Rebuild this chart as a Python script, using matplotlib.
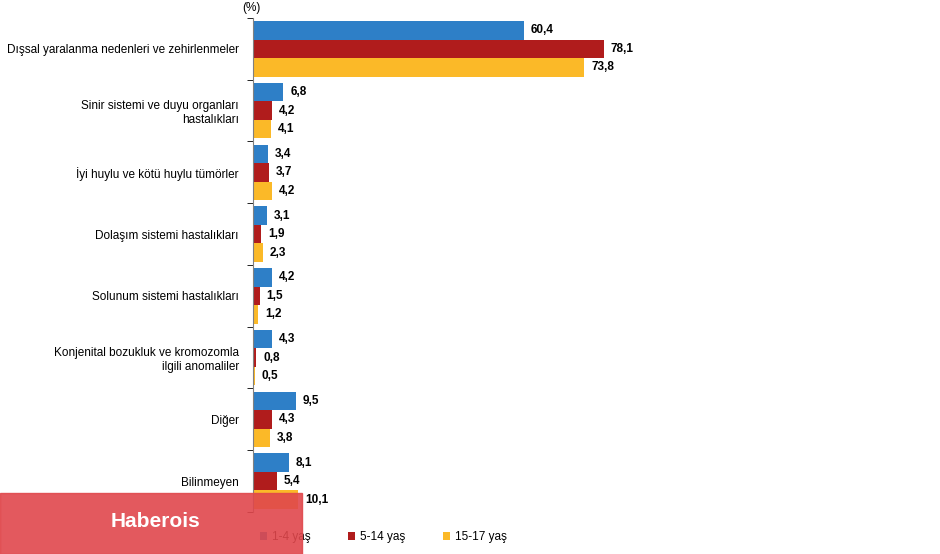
import matplotlib
import numpy as np

matplotlib.use("Agg")
import matplotlib.pyplot as plt
from matplotlib.patches import Rectangle

categories = [
    "Dışsal yaralanma nedenleri ve zehirlenmeler",
    "Sinir sistemi ve duyu organları\nhastalıkları",
    "İyi huylu ve kötü huylu tümörler",
    "Dolaşım sistemi hastalıkları",
    "Solunum sistemi hastalıkları",
    "Konjenital bozukluk ve kromozomla\nilgili anomaliler",
    "Diğer",
    "Bilinmeyen",
]
age_1_4 = [60.4, 6.8, 3.4, 3.1, 4.2, 4.3, 9.5, 8.1]
age_5_14 = [78.1, 4.2, 3.7, 1.9, 1.5, 0.8, 4.3, 5.4]
age_15_17 = [73.8, 4.1, 4.2, 2.3, 1.2, 0.5, 3.8, 10.1]
series_names = ["1-4 yaş", "5-14 yaş", "15-17 yaş"]
colors = ["#2e7fc7", "#b01c1c", "#fbb928"]

plt.rcParams["font.family"] = "Liberation Sans"
fig = plt.figure(figsize=(9.4, 5.54), dpi=100)
ax = fig.add_axes([0.269, 0.076, 0.731, 0.8915])

n = len(categories)
y = np.arange(n)
h = 0.3
for i, (vals, name, c) in enumerate(zip([age_1_4, age_5_14, age_15_17], series_names, colors)):
    pos = y + (i - 1) * h
    ax.barh(pos, vals, height=h, color=c, label=name)
    for p, v in zip(pos, vals):
        ax.text(v + 1.5, p, f"{v:.1f}".replace(".", ","), va="center", ha="left",
                fontsize=8.5, fontweight="bold")

ax.set_ylim(n - 0.5, -0.5)
ax.set_xlim(0, 153)
ax.set_yticks(y)
ax.set_yticklabels(categories, fontsize=8.5)
ax.set_yticks(np.arange(n + 1) - 0.5, minor=True)
ax.tick_params(axis="y", which="major", length=0, pad=10)
ax.tick_params(axis="y", which="minor", length=4, direction="out")
ax.set_xticks([])
for s in ["top", "right", "bottom"]:
    ax.spines[s].set_visible(False)
ax.spines["left"].set_color("#808080")
fig.text(0.268, 0.997, "(%)", fontsize=8.5, ha="center", va="top")

fig.legend(loc="lower left", bbox_to_anchor=(0.265, 0.0), ncol=3, frameon=False,
           fontsize=8.5, handlelength=0.6, handleheight=0.6, columnspacing=3.2,
           handletextpad=0.4)

# watermark overlay
fig.patches.append(Rectangle((0, 0), 0.321, 0.11, transform=fig.transFigure,
                             color="#e0474c", alpha=0.9, zorder=10))
fig.text(0.165, 0.058, "Haberois", color="white", fontsize=15, fontweight="bold",
         ha="center", va="center", zorder=11)

fig.savefig("out.png", dpi=100)
plt.close()
